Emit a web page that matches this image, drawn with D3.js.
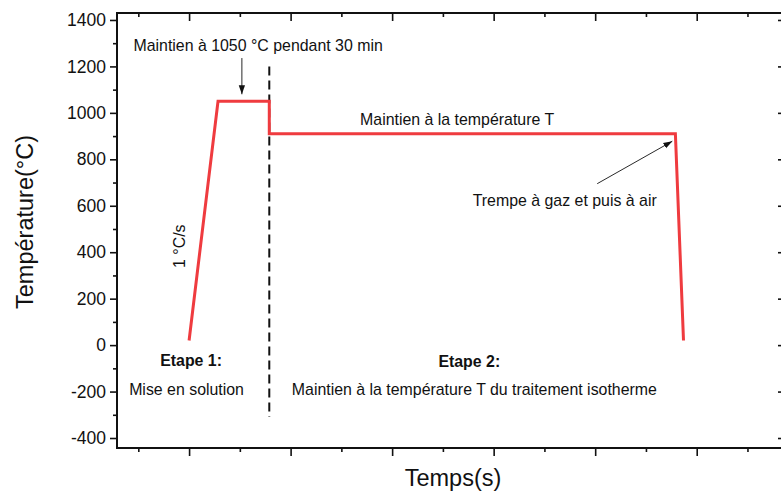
<!DOCTYPE html>
<html>
<head>
<meta charset="utf-8">
<script src="https://cdn.jsdelivr.net/npm/d3@7"></script>
<style>
  body { margin: 0; background: #fff; }
  text { font-family: "Liberation Sans", Arial, sans-serif; fill: #111; }
</style>
</head>
<body>
<div id="chart"></div>
<script>
const width = 781
const height = 492
const margin = { top: 13, bottom: 44, left: 117, right: -2 }

// Data: traitement thermique (temps en unités arbitraires, température en °C)
const timeValues = [1.0, 1.285, 1.79, 1.79, 5.79, 5.87]
const tempValues = [20, 1050, 1050, 910, 910, 20]
const yTicks = [-400, -200, 0, 200, 400, 600, 800, 1000, 1200, 1400]
const yMinorTicks = [-300, -100, 100, 300, 500, 700, 900, 1100, 1300]
const xTicks = [1, 2, 3, 4, 5, 6]
const xMinorTicks = [0.5, 1.5, 2.5, 3.5, 4.5, 5.5, 6.5]
const separator = { x: 1.79, from: 1200, to: -310 }

const labels = [
  { text: "Maintien à 1050 °C pendant 30 min", x: 1.68, y: 1268, bold: false },
  { text: "Maintien à la température T", x: 3.64, y: 946, bold: false },
  { text: "Trempe à gaz et puis à air", x: 4.70, y: 598, bold: false },
  { text: "Etape 1:", x: 1.02, y: -92, bold: true },
  { text: "Mise en solution", x: 0.975, y: -214, bold: false },
  { text: "Etape 2:", x: 3.76, y: -95, bold: true },
  { text: "Maintien à la température T du traitement isotherme", x: 3.81, y: -214, bold: false },
]
const arrows = [
  { x1: 1.52, y1: 1236, x2: 1.52, y2: 1080 },
  { x1: 5.02, y1: 695, x2: 5.76, y2: 878 },
]

const svg = d3.select("#chart")
  .append("svg")
  .attr("width", width)
  .attr("height", height)

const innerW = width - margin.left - margin.right
const innerH = height - margin.top - margin.bottom

const x = d3.scaleLinear().domain([0.29, 6.85]).range([0, innerW])
const y = d3.scaleLinear().domain([-443, 1430]).range([innerH, 0])

const g = svg.append("g").attr("transform", `translate(${margin.left}, ${margin.top})`)

svg.append("defs").append("marker")
  .attr("id", "head")
  .attr("viewBox", "0 0 10 10")
  .attr("refX", 10).attr("refY", 5)
  .attr("markerWidth", 9).attr("markerHeight", 9)
  .attr("markerUnits", "userSpaceOnUse")
  .attr("orient", "auto")
  .append("path").attr("d", "M0,1.5 L10,5 L0,8.5 Z").attr("fill", "#111")

// Axes
const axisStyle = sel => {
  sel.select(".domain").remove()
  sel.selectAll("line").attr("stroke", "#111").attr("stroke-width", 1.6)
  sel.selectAll("text").attr("font-size", "17.5px").attr("fill", "#111")
}

g.append("g").call(d3.axisLeft(y).tickValues(yTicks).tickSize(7).tickPadding(4).tickFormat(d3.format("d")))
  .call(axisStyle)
  .selectAll("text").text(d => d < 0 ? "-" + Math.abs(d) : d)
g.append("g").call(d3.axisLeft(y).tickValues(yMinorTicks).tickSize(4).tickFormat(""))
  .call(axisStyle)
g.append("g").attr("transform", `translate(${innerW},0)`)
  .call(d3.axisLeft(y).tickValues(yTicks).tickSize(-5).tickFormat(""))
  .call(axisStyle)
  .selectAll("line").attr("x2", -5)

g.append("g").attr("transform", `translate(0,${innerH})`)
  .call(d3.axisBottom(x).tickValues(xTicks).tickSize(8).tickFormat(""))
  .call(axisStyle)
g.append("g").attr("transform", `translate(0,${innerH})`)
  .call(d3.axisBottom(x).tickValues(xMinorTicks).tickSize(4).tickFormat(""))
  .call(axisStyle)
g.append("g")
  .call(d3.axisBottom(x).tickValues(xTicks).tickSize(8).tickFormat(""))
  .call(axisStyle)
g.append("g")
  .call(d3.axisBottom(x).tickValues(xMinorTicks).tickSize(4).tickFormat(""))
  .call(axisStyle)

g.append("rect")
  .attr("width", innerW).attr("height", innerH)
  .attr("fill", "none").attr("stroke", "#111").attr("stroke-width", 2)

// Separateur pointillé
g.append("line")
  .attr("x1", x(separator.x)).attr("x2", x(separator.x))
  .attr("y1", y(separator.from)).attr("y2", y(separator.to))
  .attr("stroke", "#111").attr("stroke-width", 2)
  .attr("stroke-dasharray", "9,5")

// Courbe
const points = timeValues.map((t, i) => [t, tempValues[i]])
g.append("path")
  .datum(points)
  .attr("fill", "none")
  .attr("stroke", "#ef3b3f")
  .attr("stroke-width", 3)
  .attr("stroke-linejoin", "miter")
  .attr("d", d3.line().x(d => x(d[0])).y(d => y(d[1])))

// Flèches
g.selectAll(".arrow").data(arrows).join("line")
  .attr("class", "arrow")
  .attr("x1", d => x(d.x1)).attr("y1", d => y(d.y1))
  .attr("x2", d => x(d.x2)).attr("y2", d => y(d.y2))
  .attr("stroke", "#111").attr("stroke-width", 0.9)
  .attr("marker-end", "url(#head)")

// Annotations
g.selectAll(".lbl").data(labels).join("text")
  .attr("class", "lbl")
  .attr("x", d => x(d.x)).attr("y", d => y(d.y))
  .attr("text-anchor", "middle")
  .attr("font-size", "15.9px")
  .attr("font-weight", d => d.bold ? "bold" : "normal")
  .text(d => d.text)

g.append("text")
  .attr("transform", `translate(${x(0.91)},${y(426)}) rotate(-90)`)
  .attr("text-anchor", "middle")
  .attr("dominant-baseline", "central")
  .attr("font-size", "15.9px")
  .text("1 °C/s")

// Titres des axes
svg.append("text")
  .attr("transform", `translate(33,222) rotate(-90)`)
  .attr("text-anchor", "middle")
  .attr("font-size", "23.5px")
  .text("Température(°C)")

svg.append("text")
  .attr("x", 453).attr("y", 486)
  .attr("text-anchor", "middle")
  .attr("font-size", "23.5px")
  .text("Temps(s)")
</script>
</body>
</html>
